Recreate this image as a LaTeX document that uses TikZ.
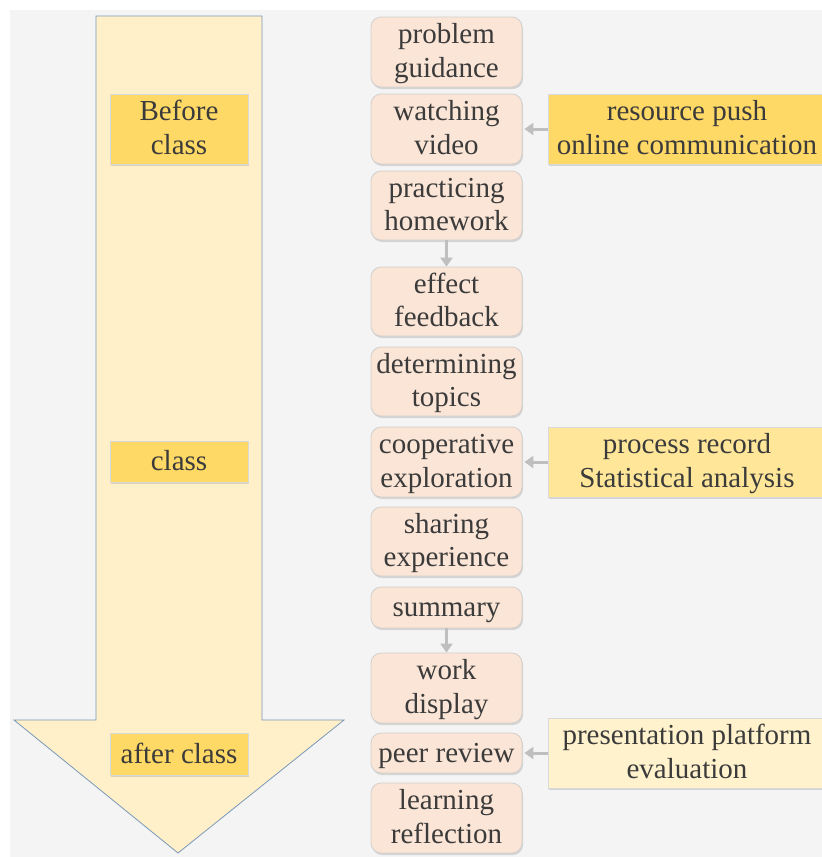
\documentclass[tikz,border=0pt]{standalone}
\usepackage{fontspec}
\setmainfont{Liberation Serif}
\newfontfamily\diagramfont{Liberation Serif}
\usetikzlibrary{arrows.meta,shadows}
\definecolor{bgc}{HTML}{F4F4F4}
\definecolor{arrowfill}{HTML}{FFF0CA}
\definecolor{arrowline}{HTML}{7A98B8}
\definecolor{stepfill}{HTML}{FBE5D6}
\definecolor{stepline}{HTML}{D3CFCC}
\definecolor{phasefill}{HTML}{FFD966}
\definecolor{toolA}{HTML}{FFD966}
\definecolor{toolB}{HTML}{FFE699}
\definecolor{toolC}{HTML}{FFF2CC}
\definecolor{txt}{HTML}{3B3B3B}
\definecolor{conn}{HTML}{BFBFBF}
\tikzset{
  x=1pt, y=-1pt,
  every node/.style={font=\diagramfont\fontsize{29}{33.3}\selectfont, text=txt, align=center, inner sep=0pt},
  % fixed text boxes so that baselines sit where they should
  oneline/.style={text height=27pt, text depth=9pt},
  twoline/.style={text height=59pt, text depth=9pt},
  softshadow/.style={drop shadow={shadow xshift=1pt, shadow yshift=-2pt, opacity=0.22, fill=black!60}},
  stepbox/.style={rectangle, rounded corners=10pt, fill=stepfill, draw=stepline, line width=0.8pt,
    minimum width=151pt, softshadow},
  phasebox/.style={rectangle, fill=phasefill, draw=black!15, line width=0.8pt,
    minimum width=138pt, softshadow},
  toolbox/.style={rectangle, draw=black!15, line width=0.8pt, minimum width=278pt, minimum height=70pt, softshadow},
  link/.style={draw=conn, line width=3pt, -{Triangle[length=9pt,width=12pt]}},
}
\begin{document}
\begin{tikzpicture}
  \useasboundingbox (0,0) rectangle (822,857);
  \clip (0,0) rectangle (822,857);
  \fill[bgc] (10,10) rectangle (830,860);

  % big downward arrow showing the course timeline
  \draw[fill=arrowfill, draw=arrowline, line width=0.8pt]
    (96,16) -- (262,16) -- (262,720) -- (344,720) -- (178,853) -- (14,720) -- (96,720) -- cycle;

  % phase labels on the arrow
  \node[phasebox, twoline, minimum height=70pt] (before) at (179,129) {Before\\class};
  \node[phasebox, oneline, minimum height=41pt] (inclass) at (179,461.5) {class};
  \node[phasebox, oneline, minimum height=42pt] (after) at (179,754) {after class};

  % teaching steps
  \node[stepbox, twoline, minimum height=70pt] (s1) at (446.5,52) {problem\\guidance};
  \node[stepbox, twoline, minimum height=70pt] (s2) at (446.5,129) {watching\\video};
  \node[stepbox, twoline, minimum height=69pt] (s3) at (446.5,205.5) {practicing\\homework};
  \node[stepbox, twoline, minimum height=69pt] (s4) at (446.5,301.5) {effect\\feedback};
  \node[stepbox, twoline, minimum height=69pt] (s5) at (446.5,381.5) {determining\\topics};
  \node[stepbox, twoline, minimum height=70pt] (s6) at (446.5,462) {cooperative\\exploration};
  \node[stepbox, twoline, minimum height=69pt] (s7) at (446.5,541.5) {sharing\\experience};
  \node[stepbox, oneline, minimum height=41pt] (s8) at (446.5,607.5) {summary};
  \node[stepbox, twoline, minimum height=70pt] (s9) at (446.5,688) {work\\display};
  \node[stepbox, oneline, minimum height=40pt] (s10) at (446.5,753) {peer review};
  \node[stepbox, twoline, minimum height=70pt] (s11) at (446.5,818) {learning\\reflection};

  % supporting platform functions
  \node[toolbox, twoline, fill=toolA] (t1) at (687,129) {resource push\\online communication};
  \node[toolbox, twoline, fill=toolB] (t2) at (687,462) {process record\\Statistical analysis};
  \node[toolbox, twoline, fill=toolC] (t3) at (687,753) {presentation platform\\evaluation};

  % connectors
  \draw[link] (s3) -- (s4);
  \draw[link] (s8) -- (s9);
  \draw[link] (t1) -- ([xshift=2pt]s2.east);
  \draw[link] (t2) -- ([xshift=2pt]s6.east);
  \draw[link] (t3) -- ([xshift=2pt]s10.east);
\end{tikzpicture}
\end{document}
